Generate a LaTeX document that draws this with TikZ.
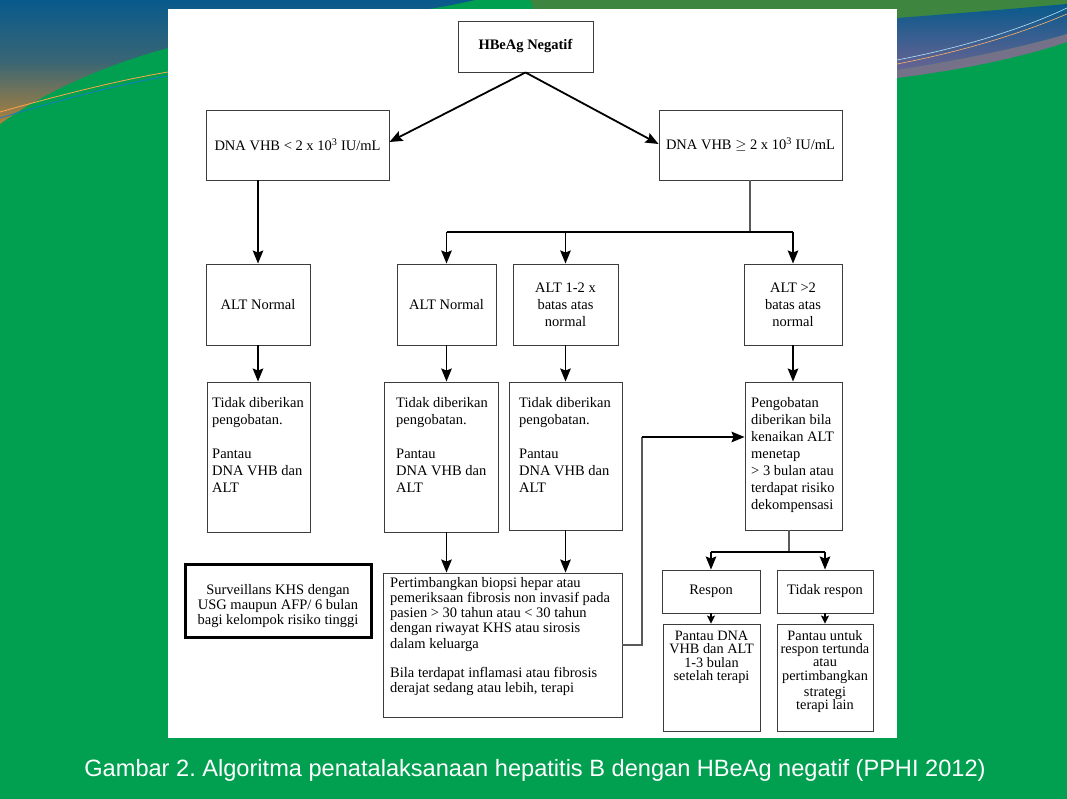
\documentclass[tikz,border=0pt]{standalone}
\usepackage{fontspec}
\setmainfont{Liberation Serif}
\newfontfamily\capfont{Liberation Sans}
\usetikzlibrary{arrows.meta}
\definecolor{bggreen}{RGB}{0,160,80}
\definecolor{olivec}{RGB}{62,133,64}
\definecolor{bluetop}{RGB}{8,90,140}
\definecolor{brownc}{RGB}{175,130,60}
\definecolor{purplec}{RGB}{90,80,160}
\definecolor{boxc}{RGB}{60,60,60}
\definecolor{linec}{RGB}{90,90,90}
\tikzset{
  box/.style={draw=boxc, line width=0.9pt, fill=white, inner sep=0pt, font=\fs, align=center},
  txt/.style={inner sep=0pt, font=\fs, align=left},
  arr/.style={line width=1.8pt, -{Stealth[length=13pt,width=10.5pt,inset=2pt]}},
  sarr/.style={line width=1.4pt, -{Stealth[length=8pt,width=8pt,inset=1.5pt]}},
  thinl/.style={draw=linec, line width=1.1pt},
  branch/.style={line width=1.5pt}
}
\newcommand{\fs}{\fontsize{14.5}{17}\selectfont}
\newcommand{\fsb}{\fontsize{14.5}{15.2}\selectfont}
\newcommand{\fsc}{\fontsize{14.3}{13.3}\selectfont}
\frenchspacing
\begin{document}
\begin{tikzpicture}[x=1pt,y=-1pt]
\useasboundingbox (0,0) rectangle (1067,799);
% background
\fill[bggreen] (0,0) rectangle (1067,799);
\shade[top color=bluetop, bottom color=brownc, middle color=bluetop!70!brownc]
  (0,0) -- (475,0) .. controls (400,18) and (260,28) .. (168,48) .. controls (100,66) and (40,95) .. (0,124) -- cycle;
\draw[orange!70!white, line width=0.8pt] (0,112) .. controls (60,95) and (120,80) .. (168,72);
\draw[cyan!60!blue, line width=0.8pt] (0,118) .. controls (60,100) and (120,84) .. (168,76);
\fill[olivec] (520,0) -- (1067,0) -- (1067,4) .. controls (1000,10) and (950,14) .. (897,18) -- (520,18) .. controls (535,8) .. (530,0) -- cycle;
\shade[top color=bluetop, bottom color=purplec!60!gray]
  (1067,4) .. controls (1000,10) and (950,14) .. (897,18) -- (897,70) .. controls (960,60) and (1020,48) .. (1067,34) -- cycle;
\fill[gray!70!purplec] (897,70) .. controls (960,60) and (1020,48) .. (1067,34) -- (1067,42) .. controls (1020,58) and (960,70) .. (897,78) -- cycle;
\draw[white!70!cyan, line width=0.6pt] (897,60) .. controls (960,48) and (1020,30) .. (1067,8);
\draw[orange!60!white, line width=0.6pt] (897,64) .. controls (960,52) and (1020,34) .. (1067,14);
% white panel
\fill[white] (168,9) rectangle (897,738);

% boxes
\node[box, minimum width=135pt, minimum height=51pt] (hbe) at (525.5,46.5) {\textbf{HBeAg Negatif}};
\node[box, minimum width=183pt, minimum height=70pt] (dnal) at (297.5,145) {DNA VHB < 2 x 10\textsuperscript{3} IU/mL};
\node[box, minimum width=183pt, minimum height=70pt] (dnag) at (750.5,145) {DNA VHB $\geq$ 2 x 10\textsuperscript{3} IU/mL};

\node[box, minimum width=104pt, minimum height=81pt] (alt1) at (258,304.5) {ALT Normal};
\node[box, minimum width=99pt, minimum height=81pt] (alt2) at (446.5,304.5) {ALT Normal};
\node[box, minimum width=105pt, minimum height=81pt] (alt3) at (565.5,304.5) {ALT 1-2 x\\batas atas\\normal};
\node[box, minimum width=98pt, minimum height=81pt] (alt4) at (793,304.5) {ALT >2\\batas atas\\normal};

\node[box, minimum width=103pt, minimum height=150pt] (t1) at (258.5,457) {};
\node[box, minimum width=114pt, minimum height=150pt] (t2) at (441,457) {};
\node[box, minimum width=113pt, minimum height=148pt] (t3) at (565.5,456) {};
\node[box, minimum width=97pt, minimum height=148pt] (peng) at (793.5,456) {};
\node[txt, anchor=north west] (t1t) at (212,397.5) {Tidak diberikan\\pengobatan.\\[17pt]Pantau\\DNA VHB dan\\ALT};
\node[txt, anchor=north west] (t2t) at (396,397.5) {Tidak diberikan\\pengobatan.\\[17pt]Pantau\\DNA VHB dan\\ALT};
\node[txt, anchor=north west] (t3t) at (519,397.5) {Tidak diberikan\\pengobatan.\\[17pt]Pantau\\DNA VHB dan\\ALT};
\node[txt, anchor=north west] (pengt) at (751,397.5) {Pengobatan\\diberikan bila\\kenaikan ALT\\menetap\\> 3 bulan atau\\terdapat risiko\\dekompensasi};

\node[box, draw=black, line width=3pt, minimum width=186pt, minimum height=73pt] (surv) at (278,600.5) {};
\node[txt, align=center, font=\fsb] (survt) at (278,606) {Surveillans KHS dengan\\USG maupun AFP/ 6 bulan\\bagi kelompok risiko tinggi};

\node[box, minimum width=239pt, minimum height=144pt] (big) at (502.5,645) {};
\node[txt, font=\fsb, anchor=north west] (bigt) at (390,577) {Pertimbangkan biopsi hepar atau\\pemeriksaan fibrosis non invasif pada\\pasien > 30 tahun atau < 30 tahun\\dengan riwayat KHS atau sirosis\\dalam keluarga\\[14pt]Bila terdapat inflamasi atau fibrosis\\derajat sedang atau lebih, terapi};

\node[box, minimum width=98pt, minimum height=43pt] (resp) at (711,591.5) {Respon};
\node[box, minimum width=96pt, minimum height=43pt] (tresp) at (825,591.5) {Tidak respon};
\node[box, minimum width=97pt, minimum height=107pt] (pd) at (711.5,677.5) {};
\node[box, minimum width=96pt, minimum height=107pt] (pu) at (825,677.5) {};
\node[txt, align=center, font=\fsc, anchor=north] (pdt) at (711.5,631) {Pantau DNA\\VHB dan ALT\\1-3 bulan\\setelah terapi};
\node[txt, align=center, font=\fsc, anchor=north] (put) at (825,630) {Pantau untuk\\respon tertunda\\atau\\pertimbangkan\\[3pt]strategi\\terapi lain};

% connectors
\coordinate (j1) at (750,232);
\coordinate (fb) at (642,437);
\coordinate (j3) at (789,552);
\draw[arr] (hbe.south) -- ([yshift=3pt]dnal.east);
\draw[arr] (hbe.south) -- ([yshift=1pt]dnag.west);
\draw[arr] (dnal.south -| alt1.north) -- (alt1.north);
\draw[thinl] (dnag.south -| j1) -- (j1);
\draw[branch] (alt2.north |- j1) -- (alt4.north |- j1);
\draw[arr] (alt2.north |- j1) -- (alt2.north);
\draw[arr] (alt3.north |- j1) -- (alt3.north);
\draw[arr] (alt4.north |- j1) -- (alt4.north);
\draw[arr] (alt1.south) -- (alt1.south |- t1.north);
\draw[arr] (alt2.south) -- (alt2.south |- t2.north);
\draw[arr] (alt3.south) -- (alt3.south |- t3.north);
\draw[arr] (alt4.south) -- (alt4.south |- peng.north);
\draw[arr] (alt2.south |- t2.south) -- (alt2.south |- big.north);
\draw[arr] (alt3.south |- t3.south) -- (alt3.south |- big.north);
\draw[thinl] (big.east) -| (fb);
\draw[arr] (fb) -- (fb -| peng.west);
\draw[thinl] (peng.south -| j3) -- (j3);
\draw[branch] (resp.north |- j3) -- (tresp.north |- j3);
\draw[arr] (resp.north |- j3) -- (resp.north);
\draw[arr] (tresp.north |- j3) -- (tresp.north);
\draw[sarr] (resp.south) -- (resp.south |- pd.north);
\draw[sarr] (tresp.south) -- (tresp.south |- pu.north);

% caption
\node[inner sep=0pt, text=white, font=\capfont\fontsize{23.6}{27}\selectfont] (cap) at (535,770) {Gambar 2. Algoritma penatalaksanaan hepatitis B dengan HBeAg negatif (PPHI 2012)};
\end{tikzpicture}
\end{document}
